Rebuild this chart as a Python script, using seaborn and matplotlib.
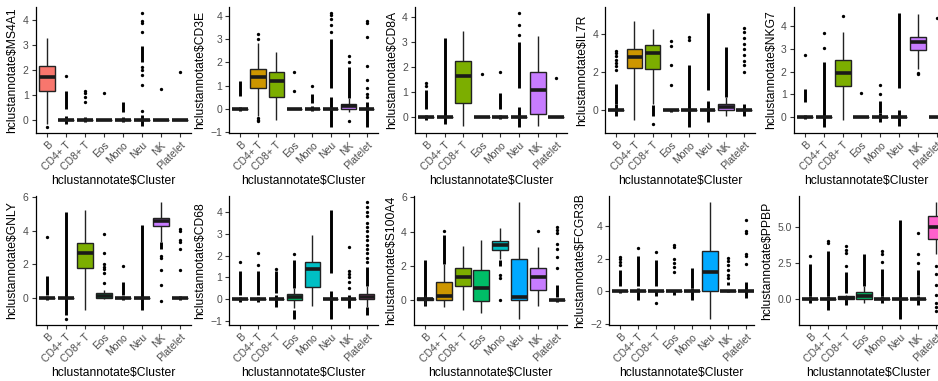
import numpy as np
import pandas as pd
import matplotlib
matplotlib.use("Agg")
import matplotlib.pyplot as plt
import seaborn as sns

sns.set_theme(style="ticks")
plt.rcParams["font.family"] = ["Liberation Sans", "DejaVu Sans"]

clusters = ["B", "CD4+ T", "CD8+ T", "Eos", "Mono", "Neu", "NK", "Platelet"]
palette = ["#F8766D", "#CD9600", "#7CAE00", "#00BE67", "#00BFC4", "#00A9FF", "#C77CFF", "#FF61CC"]
genes = ["MS4A1", "CD3E", "CD8A", "IL7R", "NKG7", "GNLY", "CD68", "S100A4", "FCGR3B", "PPBP"]
Z = (0, 0, 0, 0, 0)

# box stats per cluster: (lower whisker, q1, median, q3, upper whisker)
MS4A1_box = [(-0.15, 1.17, 1.7, 2.13, 3.27), Z, Z, Z, Z, Z, Z, Z]
MS4A1_out = [[-0.3], [1.75], [0.72, 0.93, 1.07, 1.16], [1.08], [], [0.35, 1.4, 1.8, 2.0, 2.1, 3.5, 3.85, 3.95, 4.28], [1.23], [1.92]]
MS4A1_dense = [[], [(-0.15, 0.15), (0.45, 1.15)], [(-0.08, 0.1)], [], [(-0.1, 0.1), (0.3, 0.7)], [(-0.25, 0.2), (2.3, 2.95)], [], []]

CD3E_box = [Z, (-0.3, 0.89, 1.39, 1.71, 2.85), (-0.47, 0.5, 1.21, 1.6, 2.46), Z, Z, Z, (-0.15, 0.0, 0.12, 0.2, 0.45), Z]
CD3E_out = [[], [3.0, 3.22, -0.4, -0.5, -0.55], [], [0.75, 1.57], [1.0], [3.3, 3.6, 3.9, 4.05, 4.15], [2.0, 2.29, -0.55], [0.5, 0.65, 0.9, 1.25, 1.85, 3.1, 3.7, 3.8]]
CD3E_dense = [[(-0.08, 0.08), (0.55, 1.2)], [], [], [], [(-0.08, 0.1), (0.24, 0.64)], [(-0.8, 0.5), (0.9, 3.03)], [(0.45, 1.8)], [(-0.8, 0.3)]]

CD8A_box = [Z, Z, (-0.33, 0.56, 1.64, 2.23, 3.45), Z, Z, Z, (-0.35, 0.13, 1.09, 1.8, 3.25), Z]
CD8A_out = [[1.25, 1.38], [], [], [1.75], [1.8], [3.3, 3.7, 4.18], [], [1.57]]
CD8A_dense = [[(-0.1, 0.1), (0.33, 1.11)], [(-0.26, 3.15)], [], [], [(-0.08, 0.08), (0.33, 0.96)], [(-0.4, 0.4), (1.18, 2.99)], [], []]

IL7R_box = [Z, (-0.52, 2.2, 2.8, 3.22, 4.7), (0.3, 2.17, 3.0, 3.43, 4.26), Z, Z, Z, (-0.3, 0.0, 0.15, 0.3, 0.7), Z]
IL7R_out = [[2.1, 2.3, 2.5, 2.65, 2.85, 3.0, 3.13], [], [-0.75], [1.3, 2.4, 3.4, 3.65], [3.7, 3.85], [], [], [2.0, 2.4, 2.6, 2.9, 3.2, 3.5, 3.8, 4.1, 4.3]]
IL7R_dense = [[(-0.3, 0.3), (0.3, 1.39)], [], [(-0.3, 0.25)], [(-0.08, 0.08)], [(-0.9, 2.4)], [(-0.6, 0.5), (1.04, 5.13)], [(0.7, 3.3)], [(-0.3, 0.3)]]

NKG7_box = [Z, Z, (-0.12, 1.39, 1.96, 2.5, 3.73), Z, Z, Z, (2.1, 2.96, 3.32, 3.51, 4.52), Z]
NKG7_out = [[2.72], [3.05, 3.68], [4.45], [1.08], [1.0, 1.42], [], [1.9, 1.96], [4.38]]
NKG7_dense = [[(-0.08, 0.08), (0.65, 1.24)], [(-0.44, 2.44)], [], [], [(-0.2, 0.2), (0.2, 0.7)], [(-0.4, 0.3), (1.29, 4.59)], [], []]

GNLY_box = [Z, Z, (-0.7, 1.8, 2.66, 3.26, 5.2), (-0.05, 0.0, 0.1, 0.3, 0.5), Z, Z, (3.3, 4.24, 4.54, 4.76, 5.7), Z]
GNLY_out = [[3.6], [-1.25], [], [0.9, 1.5, 1.7, 1.85, 2.0, 2.65, 3.8], [1.88], [], [2.5, 2.35, 1.65, 0.75, -0.2], [1.65, 2.9, 3.3, 3.45, 4.0, 4.1]]
GNLY_dense = [[(-0.1, 0.1), (0.2, 1.3)], [(-1.0, 5.1)], [], [], [(-0.1, 0.1), (0.2, 0.95)], [(-0.7, 4.35)], [(2.9, 3.3)], [(-0.1, 0.15)]]

CD68_box = [Z, Z, Z, (-0.4, -0.02, 0.1, 0.25, 0.5), (-0.3, 0.58, 1.4, 1.69, 2.92), Z, Z, (-0.35, 0.0, 0.12, 0.25, 0.6)]
CD68_out = [[1.7], [1.55, 2.1], [1.4], [2.05], [], [], [0.5, 0.8, 1.0, 1.15, 1.3, 2.4],
            [1.7, 1.9, 2.1, 2.3, 2.5, 2.7, 2.9, 3.1, 3.3, 3.5, 3.8, 4.0, 4.2, 4.45]]
CD68_dense = [[(-0.1, 0.1), (0.2, 1.3)], [(-0.1, 0.1), (0.2, 1.3)], [(-0.35, 0.2), (0.3, 1.3)], [(-0.88, -0.5), (0.5, 1.8)], [],
              [(-0.9, 0.4), (1.2, 4.1)], [(-0.4, 0.2)], [(-0.7, -0.35), (0.6, 1.5)]]

S100A4_box = [(-0.3, 0.0, 0.05, 0.12, 0.3), (-0.4, 0.0, 0.26, 1.04, 2.1), (-0.54, 0.84, 1.34, 1.86, 3.16), (-0.74, -0.04, 0.74, 1.74, 3.54),
              (2.4, 2.94, 3.2, 3.44, 4.2), (-1.1, 0.0, 0.2, 2.4, 5.74), (-0.34, 0.6, 1.34, 1.9, 3.1), Z]
S100A4_out = [[], [4.05], [], [], [1.3, 1.5, 0.0], [], [4.05], [1.9, 2.5, 3.0, 3.3, 3.9, 4.1, 4.3]]
S100A4_dense = [[(-0.35, 2.35)], [(2.1, 3.8)], [], [], [(2.0, 2.35)], [], [], [(-0.1, 0.1), (0.2, 0.9)]]

FCGR3B_box = [Z, Z, Z, Z, Z, (-1.71, 0.0, 1.18, 2.45, 5.5), Z, Z]
FCGR3B_out = [[1.6, 1.8, 2.0, 2.1], [2.65], [2.4, -0.7], [1.2, 1.5, 1.75, 2.0, 2.7, 2.85], [], [], [0.8, 1.0, 1.3, 1.6, 1.85, 2.05], [1.65, 2.2, 2.3, 3.6, 3.7, 4.37]]
FCGR3B_dense = [[(-0.1, 0.1), (0.3, 1.3)], [(-0.55, 0.2), (0.3, 2.2)], [(-0.3, 0.1), (0.3, 1.9)], [(-0.2, 0.1)], [(-0.55, 0.2), (0.2, 1.45)], [],
                [(-0.05, 0.05), (0.4, 0.6)], [(-0.4, 0.6)]]

PPBP_box = [Z, Z, (-0.1, 0.0, 0.1, 0.2, 0.3), (-0.3, 0.0, 0.2, 0.5, 0.9), Z, Z, Z, (3.14, 4.19, 5.0, 5.77, 6.74)]
PPBP_out = [[3.0], [3.85, 4.0], [2.3, 3.2, 3.4, 3.7], [], [2.6, 3.1, 3.3], [], [2.5, 3.1, 4.6], [2.3, 1.7, 1.0, 0.3, -0.3, -0.55, -0.85]]
PPBP_dense = [[(-0.3, 0.2), (0.2, 2.4)], [(-0.75, 0.2), (0.2, 3.3)], [(-0.45, 0.1), (0.4, 1.9)], [(0.9, 3.1)], [(-0.3, 0.2), (0.2, 2.1)],
              [(-1.4, 5.5)], [(-0.4, 0.2), (0.3, 2.0)], []]

yticks = {
    "MS4A1": [0, 1, 2, 3, 4], "CD3E": [-1, 0, 1, 2, 3, 4], "CD8A": [0, 1, 2, 3, 4], "IL7R": [0, 2, 4], "NKG7": [0, 1, 2, 3, 4],
    "GNLY": [0, 2, 4, 6], "CD68": [-1, 0, 1, 2, 3, 4], "S100A4": [0, 2, 4, 6], "FCGR3B": [-2, 0, 2, 4], "PPBP": [0, 2.5, 5.0],
}
data = {
    "MS4A1": (MS4A1_box, MS4A1_out, MS4A1_dense), "CD3E": (CD3E_box, CD3E_out, CD3E_dense),
    "CD8A": (CD8A_box, CD8A_out, CD8A_dense), "IL7R": (IL7R_box, IL7R_out, IL7R_dense),
    "NKG7": (NKG7_box, NKG7_out, NKG7_dense), "GNLY": (GNLY_box, GNLY_out, GNLY_dense),
    "CD68": (CD68_box, CD68_out, CD68_dense), "S100A4": (S100A4_box, S100A4_out, S100A4_dense),
    "FCGR3B": (FCGR3B_box, FCGR3B_out, FCGR3B_dense), "PPBP": (PPBP_box, PPBP_out, PPBP_dense),
}

# layout in pixels: (first category centre, category spacing, right clip edge)
layout = [(47, 19.0, 191), (240, 18.1, 378), (426, 18.6, 567), (616, 18.3, 755), (805, 18.8, 938),
          (47, 19.0, 191), (240, 18.1, 378), (425, 18.8, 567), (620, 18.0, 754), (810, 18.0, 938)]
rows_y = [(7, 133), (196, 325)]
W, H = 938, 381

fig = plt.figure(figsize=(W / 100, H / 100), dpi=100)
fig.patch.set_facecolor("white")

for k, gene in enumerate(genes):
    b_px, s, r_px = layout[k]
    yt, yb = rows_y[k // 5]
    left_px = b_px - 0.6 * s
    ax = fig.add_axes([left_px / W, 1 - yb / H, (r_px - left_px) / W, (yb - yt) / H])
    ax.set_facecolor("white")
    box, out, dense = data[gene]

    df = pd.DataFrame([(c, v) for c, st in zip(clusters, box) for v in st], columns=["Cluster", "value"])
    dfo = pd.DataFrame([(c, v) for c, vals in zip(clusters, out) for v in vals], columns=["Cluster", "value"])

    for i, ranges in enumerate(dense):
        for lo, hi in ranges:
            ax.vlines(i, lo, hi, color="black", lw=2.1, zorder=1.5)
    sns.stripplot(data=dfo, x="Cluster", y="value", order=clusters, jitter=False, color="black",
                  size=2.4, linewidth=0, zorder=1.5, ax=ax)
    sns.boxplot(data=df, x="Cluster", y="value", hue="Cluster", order=clusters, hue_order=clusters,
                palette=palette, saturation=1, whis=(0, 100), width=0.85, linewidth=1.0,
                linecolor="#222222", showfliers=False, showcaps=False,
                medianprops={"linewidth": 2.6, "color": "#1a1a1a"}, legend=False, ax=ax)

    allv = [v for st in box for v in st] + [v for vals in out for v in vals] + [v for rr in dense for p in rr for v in p]
    lo, hi = min(allv), max(allv)
    pad = 0.05 * (hi - lo)
    ax.set_ylim(lo - pad, hi + pad)
    ax.set_xlim(-0.6, (r_px - b_px) / s)

    ax.set_yticks(yticks[gene])
    if gene == "PPBP":
        ax.set_yticklabels([f"{t:.1f}" for t in yticks[gene]])
    ax.set_xticks(range(len(clusters)))
    ax.set_xticklabels(clusters, rotation=45, ha="right", rotation_mode="anchor")
    ax.tick_params(axis="both", colors="#333333", labelcolor="#4D4D4D", length=3, width=0.8, labelsize=7.5, pad=2)
    for sp in ["top", "right"]:
        ax.spines[sp].set_visible(False)
    for sp in ["left", "bottom"]:
        ax.spines[sp].set_color("black")
        ax.spines[sp].set_linewidth(0.9)
    ax.set_xlabel(r"hclustannotate\$Cluster", fontsize=8.7, color="black", labelpad=2)
    ax.set_ylabel(r"hclustannotate\$" + gene, fontsize=8.7, color="black", labelpad=3)

fig.savefig("out.png", dpi=100)
